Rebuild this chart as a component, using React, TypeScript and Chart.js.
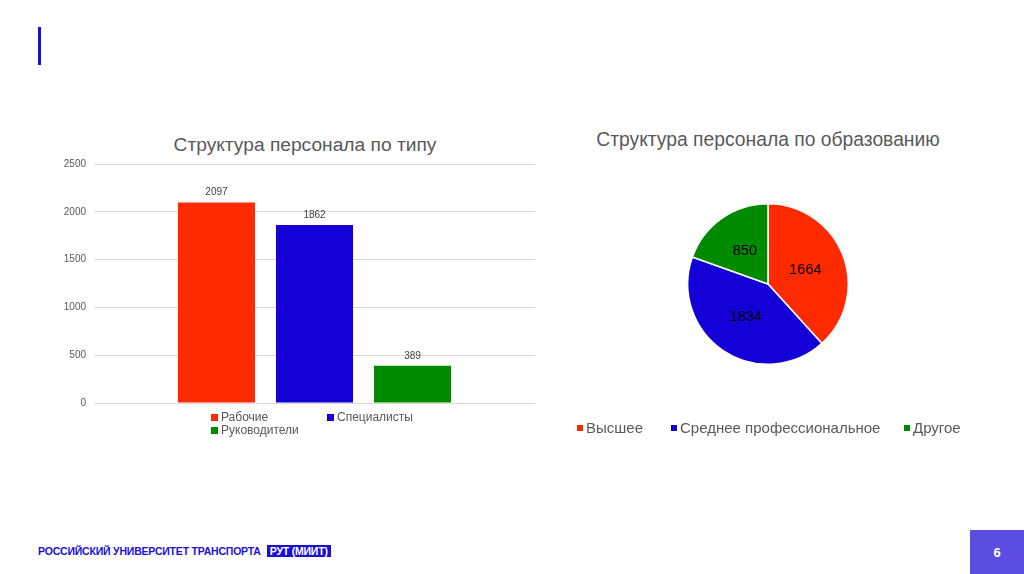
import React, { useEffect, useRef } from "react";
import { Chart, registerables } from "chart.js";

Chart.register(...registerables);

const barTitle = "Структура персонала по типу";
const barSeries = ["Рабочие", "Специалисты", "Руководители"];
const barValues = [2097, 1862, 389];
const barColors = ["#ff2a00", "#1400d6", "#008a00"];
const yTicks = [0, 500, 1000, 1500, 2000, 2500];

const pieTitle = "Структура персонала по образованию";
const pieLabels = ["Высшее", "Среднее профессиональное", "Другое"];
const pieValues = [1664, 1834, 850];
const pieColors = ["#ff2a00", "#1400d6", "#008a00"];

const FONT = "'Liberation Sans', Arial, sans-serif";

const barValuePlugin = {
  id: "barValues",
  afterDatasetsDraw(chart: any) {
    const ctx = chart.ctx;
    ctx.save();
    ctx.font = `10px ${FONT}`;
    ctx.fillStyle = "#404040";
    ctx.textAlign = "center";
    ctx.textBaseline = "bottom";
    chart.data.datasets.forEach((ds: any, i: number) => {
      const meta = chart.getDatasetMeta(i);
      meta.data.forEach((el: any, j: number) => {
        ctx.fillText(String(ds.data[j]), el.x, el.y - 5);
      });
    });
    ctx.restore();
  },
};

const pieValuePlugin = {
  id: "pieValues",
  afterDatasetsDraw(chart: any) {
    const ctx = chart.ctx;
    ctx.save();
    ctx.font = `14.5px ${FONT}`;
    ctx.fillStyle = "#000000";
    ctx.textAlign = "center";
    ctx.textBaseline = "middle";
    const meta = chart.getDatasetMeta(0);
    meta.data.forEach((arc: any, j: number) => {
      const mid = (arc.startAngle + arc.endAngle) / 2;
      const r = arc.outerRadius * 0.5;
      ctx.fillText(String(chart.data.datasets[0].data[j]), arc.x + Math.cos(mid) * r, arc.y + Math.sin(mid) * r);
    });
    ctx.restore();
  },
};

function BarChart() {
  const ref = useRef<HTMLCanvasElement>(null);
  useEffect(() => {
    const chart = new Chart(ref.current!, {
      type: "bar",
      data: {
        labels: [""],
        datasets: barSeries.map((s, i) => ({
          label: s,
          data: [barValues[i]],
          backgroundColor: barColors[i],
          categoryPercentage: 0.667,
          barPercentage: 0.786,
        })),
      },
      options: {
        animation: false,
        responsive: false,
        maintainAspectRatio: false,
        layout: { padding: { top: 14, right: 15, bottom: 17, left: 0 } },
        plugins: { legend: { display: false }, title: { display: false }, tooltip: { enabled: false } },
        scales: {
          x: { display: false },
          y: {
            min: 0,
            max: 2500,
            afterBuildTicks: (scale: any) => {
              scale.ticks = yTicks.map((v) => ({ value: v }));
            },
            afterFit: (scale: any) => {
              scale.width = 34;
            },
            border: { display: false },
            grid: { color: "#d9d9d9", drawTicks: false, lineWidth: 1 },
            ticks: {
              padding: 8,
              color: "#595959",
              font: { size: 10, family: FONT },
              callback: (v: any) => String(v),
            },
          },
        },
      },
      plugins: [barValuePlugin],
    });
    return () => chart.destroy();
  }, []);
  return <canvas ref={ref} width={490} height={270} style={{ position: "absolute", left: 60, top: 150, width: 490, height: 270 }} />;
}

function PieChart() {
  const ref = useRef<HTMLCanvasElement>(null);
  useEffect(() => {
    const chart = new Chart(ref.current!, {
      type: "pie",
      data: {
        labels: pieLabels,
        datasets: [
          {
            data: pieValues,
            backgroundColor: pieColors,
            borderColor: "#ffffff",
            borderWidth: 1.5,
          },
        ],
      },
      options: {
        animation: false,
        responsive: false,
        maintainAspectRatio: false,
        layout: { padding: 0 },
        plugins: { legend: { display: false }, tooltip: { enabled: false } },
      },
      plugins: [pieValuePlugin],
    });
    return () => chart.destroy();
  }, []);
  return <canvas ref={ref} width={400} height={162} style={{ position: "absolute", left: 568, top: 203, width: 400, height: 162 }} />;
}

function LegendItem({ color, label, size, box, left, top }: any) {
  return (
    <div style={{ position: "absolute", left, top, display: "flex", alignItems: "center", whiteSpace: "nowrap", fontSize: size, color: "#595959", fontFamily: FONT, lineHeight: 1 }}>
      <span style={{ display: "inline-block", width: box, height: box, background: color, marginRight: 3 }} />
      <span>{label}</span>
    </div>
  );
}

export default function App() {
  const barLegendPos = [
    { left: 211, top: 411 },
    { left: 327, top: 411 },
    { left: 211, top: 424 },
  ];
  const pieLegendPos = [{ left: 577 }, { left: 671 }, { left: 904 }];
  return (
    <div style={{ position: "absolute", left: 0, top: 0, width: 1024, height: 574, background: "#ffffff", overflow: "hidden", fontFamily: FONT }}>
      <div style={{ position: "absolute", left: 38, top: 27, width: 3, height: 38, background: "#1a0fd6" }} />

      <div style={{ position: "absolute", left: 60, width: 490, top: 134, textAlign: "center", fontSize: 19.2, color: "#595959", lineHeight: "22px" }}>{barTitle}</div>
      <BarChart />
      {barSeries.map((s, i) => (
        <LegendItem key={s} color={barColors[i]} label={s} size={12} box={7} left={barLegendPos[i].left} top={barLegendPos[i].top} />
      ))}

      <div style={{ position: "absolute", left: 568, width: 400, top: 129, textAlign: "center", fontSize: 19.3, color: "#595959", lineHeight: "22px" }}>{pieTitle}</div>
      <PieChart />
      {pieLabels.map((s, i) => (
        <LegendItem key={s} color={pieColors[i]} label={s} size={15} box={6} left={pieLegendPos[i].left} top={420} />
      ))}

      <div style={{ position: "absolute", left: 38, top: 544, fontSize: 10.5, fontWeight: "bold", color: "#1a0fd6", lineHeight: "14px", whiteSpace: "nowrap", letterSpacing: -0.2 }}>
        РОССИЙСКИЙ УНИВЕРСИТЕТ ТРАНСПОРТА
        <span style={{ background: "#1a0fd6", color: "#ffffff", marginLeft: 6, padding: "0 3px" }}>РУТ (МИИТ)</span>
      </div>

      <div style={{ position: "absolute", left: 970, top: 530, width: 54, height: 44, background: "#5a4de0", color: "#ffffff", fontWeight: "bold", fontSize: 13, display: "flex", alignItems: "center", justifyContent: "center" }}>6</div>
    </div>
  );
}
